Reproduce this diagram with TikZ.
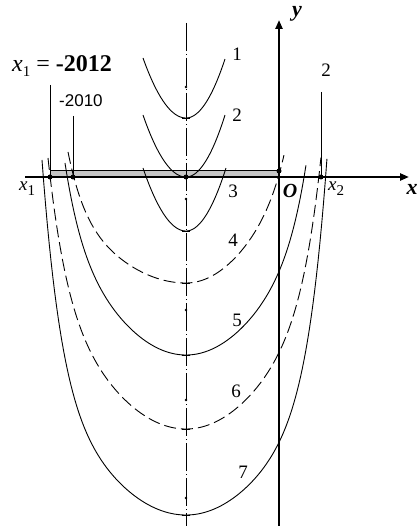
\documentclass[tikz,border=0pt]{standalone}
\usepackage{fontspec}
\setmainfont{Liberation Serif}
\newfontfamily\arialf{Liberation Sans}
\usetikzlibrary{arrows.meta}
\newcommand\subidx[1]{\raisebox{-5pt}{\fontsize{15}{15}\selectfont #1}}
% #1 style, #2 vertex y, #3 WL, #4 AL, #5 BL, #6 WR, #7 AR, #8 BR
\newcommand\ucurve[8]{%
  \draw[#1] plot[domain=-1:1, samples=161]
    ({186 + \x*(\x<0 ? #3 : #6)},
     {#2 - (\x<0 ? #4 : #7)*\x*\x - (\x<0 ? #5 : #8)*(\x*\x*\x*\x)*(\x*\x*\x*\x)});}
\begin{document}
\begin{tikzpicture}[x=1pt,y=-1pt,
  curve/.style={line width=0.9pt},
  dcurve/.style={line width=0.9pt, dash pattern=on 12pt off 5pt},
  axisline/.style={line width=2.2pt, -{Triangle[length=9pt,width=7pt]}},
  guide/.style={line width=1pt},
  symaxis/.style={line width=0.8pt, dash pattern=on 28pt off 3pt on 1pt off 3pt},
  lab/.style={font=\fontsize{19}{19}\selectfont, inner sep=0pt},
  biglab/.style={font=\fontsize{24}{24}\selectfont, inner sep=0pt},
  bigdot/.style={circle, fill, inner sep=0pt, minimum size=5pt},
  smalldot/.style={circle, fill, inner sep=0pt, minimum size=2.6pt},
]
\useasboundingbox (0,0) rectangle (419,526);
% shaded strip
\draw[fill=gray!45, line width=0.8pt] (50,170) rectangle (279,177);
% axis of symmetry
\draw[symaxis] (186,23) -- (186,526);
\foreach \yy in {118,231,283,355,429,515} \draw[line width=0.8pt] (182,\yy) -- (190,\yy);
\foreach \yy in {87,199,310,400,498} \node[smalldot] at (186,\yy) {};
% curves 1-7
\ucurve{curve}{118}{43}{60}{0}{39}{59}{0}
\ucurve{curve}{177}{43}{62}{0}{39}{62}{0}
\ucurve{curve}{231}{43}{63}{0}{40}{63}{0}
\ucurve{dcurve}{283}{118}{78}{53}{98}{100}{28}
\ucurve{curve}{355}{121}{125}{67}{120}{125}{65}
\ucurve{dcurve}{429}{138}{148}{123}{135}{148}{124}
\ucurve{curve}{515}{144}{150}{205}{141}{150}{207}
% guide lines
\draw[guide] (50,85) -- (50,177);
\draw[guide] (73,116) -- (73,177);
\draw[guide] (321,92) -- (321,177);
% axes
\coordinate (xs) at (25,177);
\coordinate (xe) at (409,177);
\coordinate (ys) at (279,526);
\coordinate (ye) at (279,20);
\draw[axisline] (xs) -- (xe);
\draw[axisline] (ys) -- (ye);
% points
\node[bigdot] (p1) at (50,177) {};
\node[bigdot] (p2) at (73,177) {};
\node[bigdot] (p3) at (186,177) {};
\node[bigdot] (p4) at (279,171) {};
\node[bigdot] (p5) at (321,177) {};
% labels
\node[lab] (l1) at (237,54) {1};
\node[lab] (l2) at (237,115) {2};
\node[lab] (l3) at (233,191) {3};
\node[lab] (l4) at (233,240) {4};
\node[lab] (l5) at (237,320) {5};
\node[lab] (l6) at (236,391) {6};
\node[lab] (l7) at (243,472) {7};
\node[lab] (l2r) at (326,70) {2};
\node[lab, font=\fontsize{20}{20}\selectfont\bfseries\itshape] (lo) at (290,191) {O};
\node[lab, font=\fontsize{22}{22}\selectfont\bfseries\itshape] (lx) at (412,189) {x};
\node[lab, font=\fontsize{22}{22}\selectfont\bfseries\itshape] (ly) at (297,14) {y};
\node[lab, anchor=west] (lx2) at (328,189) {\textit{x}\subidx{2}};
\node[lab, anchor=west] (lx1) at (19,189) {\textit{x}\subidx{1}};
\node[biglab, anchor=west] (lx1eq) at (12,66) {\textit{x}\subidx{1} = \textbf{-2012}};
\node[lab, anchor=west, font=\fontsize{17}{17}\selectfont\arialf] (l2010) at (59,101) {-2010};
\end{tikzpicture}
\end{document}
